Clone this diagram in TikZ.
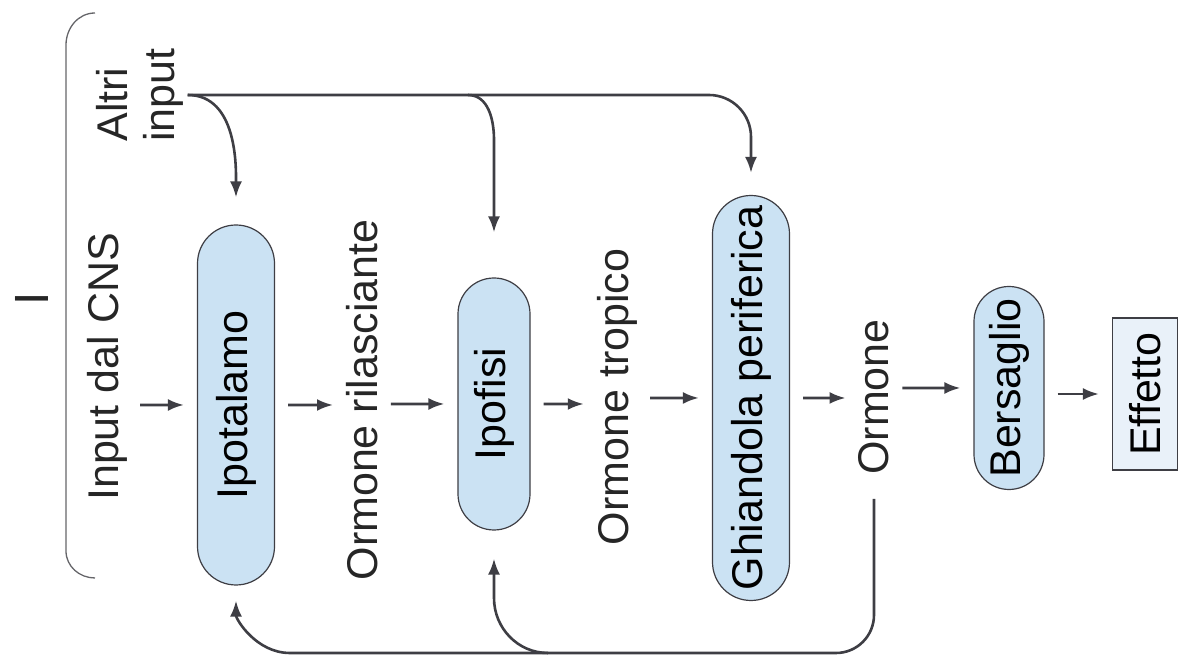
\documentclass[tikz,border=0pt]{standalone}
\usepackage{fontspec}
\setmainfont{Liberation Sans}
\usepackage{xcolor}
\usepackage{tikz}
\usetikzlibrary{positioning,shapes.misc,arrows.meta}

\definecolor{organfill}{RGB}{203,226,243}
\definecolor{effectfill}{RGB}{233,241,249}
\definecolor{inkgray}{RGB}{62,62,68}
\newcommand{\diagfont}{\fontsize{43}{47}\selectfont}

\begin{document}
\begin{tikzpicture}[
  x=1pt, y=1pt,
  organ/.style={rounded rectangle, draw=inkgray, line width=1.2pt, fill=organfill, rotate=90, minimum height=75pt, inner sep=0pt, font=\diagfont},
  result/.style={rectangle, draw=inkgray, line width=1.2pt, fill=effectfill, rotate=90, minimum width=152pt, minimum height=65pt, font=\diagfont},
  plain/.style={rotate=90, inner sep=0pt, font=\diagfont, text=black!85},
  arrow/.style={-{Latex[length=16pt,width=12pt]}, line width=2.6pt, draw=inkgray, shorten <=13pt, shorten >=13pt},
  feed/.style={-{Latex[length=16pt,width=12pt]}, line width=2.6pt, draw=inkgray}
]
  \useasboundingbox (0,0) rectangle (1184,663);

  % inputs
  \node[plain, font=\fontsize{48}{52}\selectfont] (mark) at (32,364) {I};
  \node[plain] (cns) at (107,296) {Input dal CNS};
  \node[plain, align=left] (altri) at (140,568) {Altri\\input};
  \draw[line width=1.3pt, draw=inkgray!80] (95,650) to[out=180,in=90] (66,618) -- (66,112) to[out=-90,in=180] (95,85);

  % main chain
  \node[organ, minimum width=360pt, minimum height=77pt] (ipot) at (236,258) {Ipotalamo};
  \node[plain] (rila) at (362,263) {Ormone rilasciante};
  \node[organ, minimum width=252pt, minimum height=72pt] (ipof) at (494,259) {Ipofisi};
  \node[plain] (trop) at (617,266) {Ormone tropico};
  \node[organ, minimum width=405pt, minimum height=77pt] (ghia) at (751,265) {Ghiandola periferica};
  \node[plain] (orm) at (874,266) {Ormone};
  \node[organ, minimum width=203pt, minimum height=70pt] (bers) at (1009,275) {Bersaglio};
  \node[result] (eff) at (1145,269) {Effetto};

  \draw[arrow] (cns.south |- ipot) -- (ipot);
  \draw[arrow] (ipot) -- (ipot -| rila.north);
  \draw[arrow] (rila.south |- ipof) -- (ipof);
  \draw[arrow] (ipof) -- (ipof -| trop.north);
  \draw[arrow] (trop.south |- ghia) -- (ghia);
  \draw[arrow] (ghia) -- (ghia -| orm.north);
  \draw[arrow] (orm.south |- bers) -- (bers);
  \draw[arrow] (bers.south |- eff) -- (eff);

  % other inputs
  \path (altri.south -| ipof.east) ++(-26,0) coordinate (split);
  \draw[feed, shorten <=4pt, shorten >=22pt, rounded corners=42] (altri.south) -| (ghia.east);
  \draw[feed, shorten <=4pt, shorten >=27pt] (altri.south) to[out=0,in=90] (ipot.east);
  \draw[feed, shorten >=45pt] (split) to[out=0,in=90] ++(26,-45) -- (ipof.east);

  % feedback
  \coordinate (fbr) at (548,10);
  \coordinate (fbl) at (290,10);
  \draw[feed, shorten <=24pt, shorten >=15pt] (orm.west) [rounded corners=38] |- (fbr) [sharp corners] -- (fbl) to[out=180,in=-90] (ipot.west);
  \draw[feed, shorten >=28pt] (fbr) to[out=180,in=-90] ++(-54,55) -- (ipof.west);
\end{tikzpicture}
\end{document}
